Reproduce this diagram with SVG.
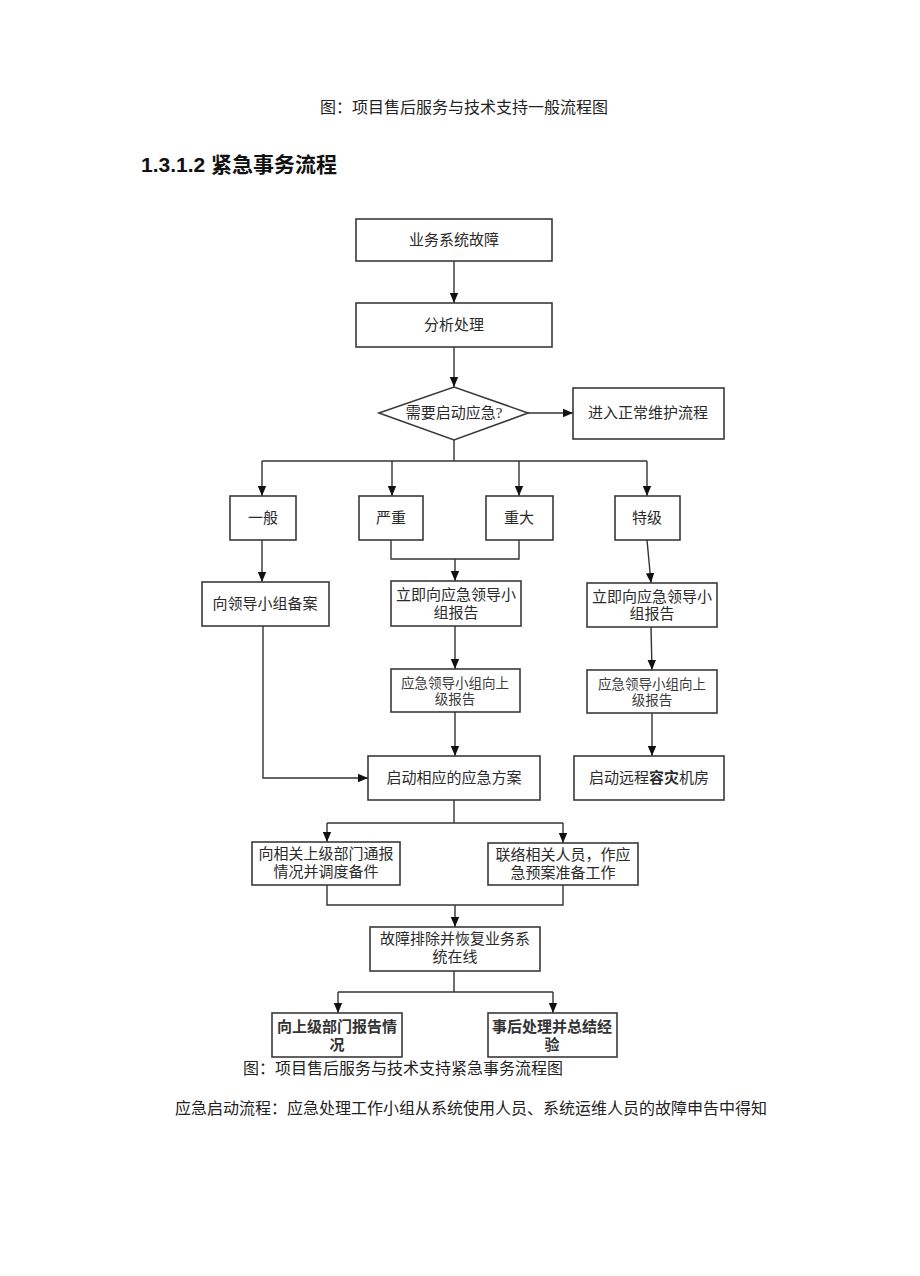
<svg xmlns="http://www.w3.org/2000/svg" width="920" height="1276" viewBox="0 0 920 1276">
<style>
.bg{fill:#ffffff}
.box{fill:#ffffff;stroke:#3a3a3a;stroke-width:1.6}
.t{font-family:"Liberation Serif","Noto Sans CJK SC",serif;font-size:15px;fill:#2a2a2a;text-anchor:middle;dominant-baseline:central}
.ts{font-size:13.5px;fill:#3a3a3a}
.tb{font-weight:bold;fill:#333}
.ln{fill:none;stroke:#333;stroke-width:1.4}
.cap{font-family:"Liberation Serif","Noto Sans CJK SC",serif;font-size:16px;fill:#222}
.h{font-family:"Liberation Sans","Noto Sans CJK SC",sans-serif;font-size:21px;font-weight:bold;fill:#111}
</style>
<defs>
<marker id="ah" markerUnits="userSpaceOnUse" markerWidth="10" markerHeight="10" refX="10" refY="5" orient="auto">
<path d="M0,0.8 L10,5 L0,9.2 z" fill="#111"/>
</marker>
</defs>
<rect class="bg" x="0" y="0" width="920" height="1276"/>
<text class="cap" x="464" y="113" text-anchor="middle">图：项目售后服务与技术支持一般流程图</text>
<text class="h" x="141" y="172">1.3.1.2 紧急事务流程</text>

<g id="connectors">
<line class="ln" x1="454" y1="261" x2="454" y2="303" marker-end="url(#ah)"/>
<line class="ln" x1="454" y1="347" x2="454" y2="387" marker-end="url(#ah)"/>
<line class="ln" x1="528" y1="413" x2="573" y2="413" marker-end="url(#ah)"/>
<polyline class="ln" points="454,440 454,461"/>
<line class="ln" x1="262" y1="461" x2="647" y2="461"/>
<line class="ln" x1="262" y1="461" x2="262" y2="496" marker-end="url(#ah)"/>
<line class="ln" x1="392" y1="461" x2="392" y2="496" marker-end="url(#ah)"/>
<line class="ln" x1="519" y1="461" x2="519" y2="496" marker-end="url(#ah)"/>
<line class="ln" x1="647" y1="461" x2="647" y2="496" marker-end="url(#ah)"/>
<line class="ln" x1="262" y1="540" x2="262" y2="582" marker-end="url(#ah)"/>
<polyline class="ln" points="391,540 391,559 519,559 519,540"/>
<line class="ln" x1="455" y1="559" x2="455" y2="581" marker-end="url(#ah)"/>
<line class="ln" x1="647" y1="540" x2="651" y2="583" marker-end="url(#ah)"/>
<line class="ln" x1="455" y1="626" x2="455" y2="669" marker-end="url(#ah)"/>
<line class="ln" x1="651" y1="627" x2="652" y2="670" marker-end="url(#ah)"/>
<line class="ln" x1="455" y1="712" x2="455" y2="756" marker-end="url(#ah)"/>
<line class="ln" x1="652" y1="713" x2="652" y2="756" marker-end="url(#ah)"/>
<polyline class="ln" points="263,626 263,778 368,778" marker-end="url(#ah)"/>
<line class="ln" x1="454" y1="800" x2="454" y2="823"/>
<line class="ln" x1="327" y1="823" x2="563" y2="823"/>
<line class="ln" x1="327" y1="823" x2="327" y2="842" marker-end="url(#ah)"/>
<line class="ln" x1="563" y1="823" x2="563" y2="843" marker-end="url(#ah)"/>
<polyline class="ln" points="327,885 327,905 563,905 563,885"/>
<line class="ln" x1="455" y1="905" x2="455" y2="927" marker-end="url(#ah)"/>
<line class="ln" x1="454" y1="971" x2="454" y2="992"/>
<line class="ln" x1="338" y1="992" x2="553" y2="992"/>
<line class="ln" x1="338" y1="992" x2="338" y2="1013" marker-end="url(#ah)"/>
<line class="ln" x1="553" y1="992" x2="553" y2="1013" marker-end="url(#ah)"/>
</g>

<g id="n-fault">
<rect class="box" x="356" y="219" width="196" height="42"/>
<text class="t" x="454" y="240">业务系统故障</text>
</g>
<g id="n-analyse">
<rect class="box" x="356" y="303" width="196" height="44"/>
<text class="t" x="454" y="325">分析处理</text>
</g>
<g id="n-decision">
<polygon class="box" points="379,413 454,387 528,413 454,440"/>
<text class="t" x="454" y="413">需要启动应急?</text>
</g>
<g id="n-normal">
<rect class="box" x="573" y="388" width="151" height="51"/>
<text class="t" x="648" y="413">进入正常维护流程</text>
</g>
<g id="n-general">
<rect class="box" x="230" y="496" width="66" height="44"/>
<text class="t" x="263" y="518">一般</text>
</g>
<g id="n-serious">
<rect class="box" x="359" y="496" width="64" height="44"/>
<text class="t" x="391" y="518">严重</text>
</g>
<g id="n-major">
<rect class="box" x="486" y="496" width="67" height="44"/>
<text class="t" x="519" y="518">重大</text>
</g>
<g id="n-special">
<rect class="box" x="615" y="496" width="65" height="44"/>
<text class="t" x="647" y="518">特级</text>
</g>
<g id="n-file">
<rect class="box" x="202" y="582" width="127" height="44"/>
<text class="t" x="265" y="604">向领导小组备案</text>
</g>
<g id="n-report-mid">
<rect class="box" x="391" y="581" width="130" height="45"/>
<text class="t" x="456" y="595">立即向应急领导小</text>
<text class="t" x="456" y="613">组报告</text>
</g>
<g id="n-report-right">
<rect class="box" x="587" y="583" width="130" height="44"/>
<text class="t" x="652" y="597">立即向应急领导小</text>
<text class="t" x="652" y="614">组报告</text>
</g>
<g id="n-up-mid">
<rect class="box" x="391" y="669" width="129" height="43"/>
<text class="t ts" x="455" y="683">应急领导小组向上</text>
<text class="t ts" x="455" y="699">级报告</text>
</g>
<g id="n-up-right">
<rect class="box" x="587" y="670" width="130" height="43"/>
<text class="t ts" x="652" y="684">应急领导小组向上</text>
<text class="t ts" x="652" y="700">级报告</text>
</g>
<g id="n-plan">
<rect class="box" x="368" y="756" width="172" height="44"/>
<text class="t" x="454" y="778">启动相应的应急方案</text>
</g>
<g id="n-remote">
<rect class="box" x="574" y="756" width="150" height="44"/>
<text class="t" x="649" y="778">启动远程<tspan font-weight="bold">容灾</tspan>机房</text>
</g>
<g id="n-notify">
<rect class="box" x="252" y="842" width="148" height="43"/>
<text class="t" x="326" y="854">向相关上级部门通报</text>
<text class="t" x="326" y="872">情况并调度备件</text>
</g>
<g id="n-contact">
<rect class="box" x="488" y="843" width="150" height="42"/>
<text class="t" x="563" y="855">联络相关人员，作应</text>
<text class="t" x="563" y="873">急预案准备工作</text>
</g>
<g id="n-restore">
<rect class="box" x="370" y="927" width="170" height="44"/>
<text class="t" x="455" y="939">故障排除并恢复业务系</text>
<text class="t" x="455" y="957">统在线</text>
</g>
<g id="n-upreport">
<rect class="box" x="272" y="1013" width="130" height="44"/>
<text class="t tb" x="337" y="1027">向上级部门报告情</text>
<text class="t tb" x="337" y="1045">况</text>
</g>
<g id="n-summary">
<rect class="box" x="488" y="1013" width="129" height="44"/>
<text class="t tb" x="552" y="1027">事后处理并总结经</text>
<text class="t tb" x="552" y="1045">验</text>
</g>

<text class="cap" x="243" y="1074">图：项目售后服务与技术支持紧急事务流程图</text>
<text class="cap" x="175" y="1114">应急启动流程：应急处理工作小组从系统使用人员、系统运维人员的故障申告中得知</text>
</svg>
